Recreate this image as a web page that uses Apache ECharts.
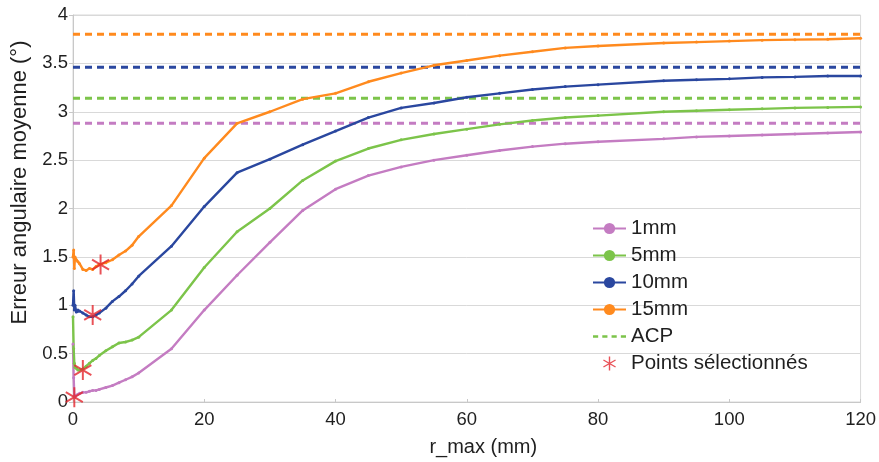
<!DOCTYPE html>
<html>
<head>
<meta charset="utf-8">
<script src="https://cdn.jsdelivr.net/npm/echarts@6/dist/echarts.min.js"></script>
<style>
  html, body { margin: 0; padding: 0; background: #fff; }
  #chart { width: 879px; height: 462px; }
</style>
</head>
<body>
<div id="chart"></div>
<script>
// r_max (mm)
const rMax = [0, 0.1, 0.2, 0.3, 0.5, 0.75, 1, 1.5, 2, 2.5, 3, 3.5, 4, 5, 6, 7, 8, 9, 10,
  15, 20, 25, 30, 35, 40, 45, 50, 55, 60, 65, 70, 75, 80, 90, 95, 100, 105, 110, 115, 120]

const err1mm = [0.60, 0.25, 0.06, 0.05, 0.07, 0.08, 0.09, 0.10, 0.10, 0.11, 0.12, 0.12, 0.13, 0.15, 0.17, 0.20, 0.23, 0.26, 0.30,
  0.55, 0.95, 1.31, 1.65, 1.98, 2.20, 2.34, 2.43, 2.50, 2.55, 2.60, 2.64, 2.67, 2.69, 2.72, 2.74, 2.75, 2.76, 2.77, 2.78, 2.79]
const err5mm = [0.88, 0.55, 0.40, 0.36, 0.35, 0.33, 0.33, 0.34, 0.37, 0.40, 0.43, 0.45, 0.48, 0.53, 0.57, 0.61, 0.62, 0.64, 0.67,
  0.95, 1.39, 1.76, 2.00, 2.29, 2.49, 2.62, 2.71, 2.77, 2.82, 2.87, 2.91, 2.94, 2.96, 3.00, 3.01, 3.02, 3.03, 3.04, 3.045, 3.05]
const err10mm = [1.00, 1.15, 0.95, 1.00, 0.93, 0.95, 0.94, 0.92, 0.90, 0.88, 0.88, 0.90, 0.92, 0.97, 1.04, 1.09, 1.15, 1.22, 1.30,
  1.61, 2.02, 2.37, 2.51, 2.66, 2.80, 2.94, 3.04, 3.09, 3.15, 3.19, 3.23, 3.26, 3.28, 3.32, 3.33, 3.34, 3.355, 3.36, 3.37, 3.37]
const err15mm = [1.50, 1.57, 1.38, 1.50, 1.47, 1.45, 1.43, 1.37, 1.36, 1.38, 1.37, 1.40, 1.42, 1.44, 1.47, 1.52, 1.56, 1.62, 1.71,
  2.03, 2.52, 2.88, 3.00, 3.13, 3.19, 3.31, 3.40, 3.48, 3.53, 3.58, 3.62, 3.66, 3.68, 3.71, 3.72, 3.73, 3.74, 3.745, 3.75, 3.76]

// ACP reference (1mm, 5mm, 10mm, 15mm)
const acpValues = [2.88, 3.14, 3.46, 3.80]

// points sélectionnés
const selX = [0.2, 1.5, 3, 4.2]
const selY = [0.05, 0.33, 0.90, 1.42]

const names = ['1mm', '5mm', '10mm', '15mm']
const colors = ['#c47cc2', '#7cc44a', '#2a479f', '#ff8a1e']
const curves = [err1mm, err5mm, err10mm, err15mm]

const asterisk = 'path://M-1,10L1,10L1,-10L-1,-10Z M8.16,5.866L9.16,4.134L-8.16,-5.866L-9.16,-4.134Z M9.16,-4.134L8.16,-5.866L-9.16,4.134L-8.16,5.866Z'
const dashIcon = 'path://M0,0h5v2.6h-5z M9,0h5v2.6h-5z M18,0h5v2.6h-5z M27,0h5v2.6h-5z'

const font = 'Liberation Sans'
const textColor = '#1f1f1f'
const chart = echarts.init(document.getElementById('chart'), null, { renderer: 'canvas' })

const series = []
curves.forEach((vals, i) => {
  series.push({
    name: names[i],
    type: 'line',
    data: rMax.map((x, k) => [x, vals[k]]),
    symbol: 'circle',
    symbolSize: 3,
    showSymbol: true,
    lineStyle: { width: 2.4, color: colors[i] },
    itemStyle: { color: colors[i] },
    z: 3
  })
})
acpValues.forEach((v, i) => {
  series.push({
    name: i === 1 ? 'ACP' : 'ACP ' + names[i],
    type: 'line',
    data: [[0, v], [120, v]],
    symbol: 'none',
    lineStyle: { width: 3, color: colors[i], type: [7, 5] },
    itemStyle: { color: colors[i] },
    z: 2
  })
})
series.push({
  name: 'Points sélectionnés',
  type: 'scatter',
  data: selX.map((x, k) => [x, selY[k]]),
  symbol: asterisk,
  symbolSize: [18, 20],
  itemStyle: { color: '#e3262d' },
  z: 5
})

chart.setOption({
  animation: false,
  textStyle: { fontFamily: font },
  grid: { left: 73, right: 17, top: 15, bottom: 59, show: true, borderColor: '#d9d9d9', borderWidth: 1 },
  legend: {
    orient: 'vertical',
    left: 587,
    top: 213,
    itemWidth: 33,
    itemHeight: 14,
    itemGap: 6,
    textStyle: { fontSize: 20.5, color: textColor, fontFamily: font },
    data: [
      { name: '1mm' }, { name: '5mm' }, { name: '10mm' }, { name: '15mm' },
      { name: 'ACP', icon: dashIcon },
      { name: 'Points sélectionnés' }
    ]
  },
  xAxis: {
    type: 'value',
    min: 0,
    max: 120,
    interval: 20,
    name: 'r_max (mm)',
    nameLocation: 'middle',
    nameGap: 35,
    nameTextStyle: { fontSize: 20, color: textColor, fontFamily: font, padding: [0, 0, 0, 33] },
    axisLine: { lineStyle: { color: '#c8c8c8' } },
    axisTick: { show: true, inside: true, length: 3, lineStyle: { color: '#c8c8c8' } },
    axisLabel: { fontSize: 18.5, color: textColor, margin: 8, fontFamily: font },
    splitLine: { show: false }
  },
  yAxis: {
    type: 'value',
    min: 0,
    max: 4,
    interval: 0.5,
    name: 'Erreur angulaire moyenne (°)',
    nameLocation: 'middle',
    nameGap: 40,
    nameRotate: 90,
    nameTextStyle: { fontSize: 22, color: textColor, fontFamily: font, padding: [0, 0, 0, 52] },
    axisLine: { show: true, lineStyle: { color: '#c8c8c8' } },
    axisTick: { show: true, length: 4, lineStyle: { color: '#c8c8c8' } },
    axisLabel: { fontSize: 18.5, color: textColor, margin: 5, fontFamily: font },
    splitLine: { lineStyle: { color: '#d9d9d9', width: 1 } }
  },
  series: series
})
</script>
</body>
</html>
